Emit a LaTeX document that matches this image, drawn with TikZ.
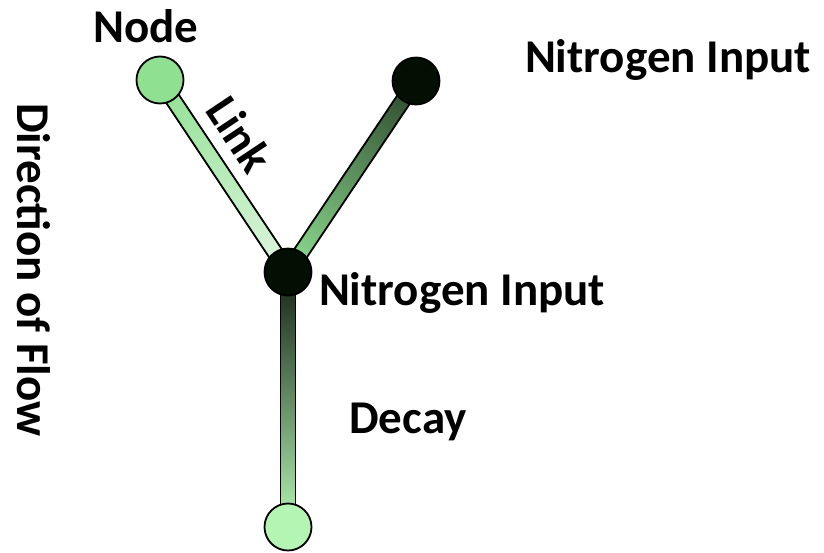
\documentclass[tikz,border=0pt]{standalone}
\usepackage{fontspec}
\setmainfont{Carlito}
\usetikzlibrary{calc,backgrounds}

\definecolor{leafgreen}{HTML}{90E092}
\definecolor{paleleaf}{HTML}{B4F5B4}
\definecolor{nightgreen}{HTML}{030F03}
\definecolor{palelink}{HTML}{E0F6E0}
\definecolor{darklink}{HTML}{2B452B}
\definecolor{deeplink}{HTML}{152215}

% a link bar between two named nodes, shaded along its length from #3 (at #1) to #4 (at #2)
\newcommand\shadedlink[4]{%
  \path let \p1=(#1.center), \p2=(#2.center) in
    \pgfextra{%
      \pgfmathsetmacro\linkang{atan2(\y2-\y1,\x2-\x1)}%
      \pgfmathsetmacro\linklen{veclen(\x2-\x1,\y2-\y1)}%
      \xdef\Lang{\linkang}\xdef\Llen{\linklen}%
      \xdef\Lx{\x1}\xdef\Ly{\y1}};
  \begin{scope}[transform canvas={shift={(\Lx,\Ly)}, rotate=\Lang}]
    \draw[linkbar, left color=#3, right color=#4]
      (0pt,-7.5pt) rectangle (\Llen pt,7.5pt);
  \end{scope}}

\begin{document}
\begin{tikzpicture}[x=1pt,y=-1pt,
  every node/.style={font=\fontsize{47}{56}\selectfont\bfseries},
  flownode/.style={circle, draw=black, line width=1.8pt, minimum size=47pt, inner sep=0pt},
  linkbar/.style={draw=black, line width=1.8pt},
  label/.style={anchor=base, inner sep=0pt}]
  \useasboundingbox (0,0) rectangle (824,552);

  % nodes of the network
  \node[flownode, fill=leafgreen]  (up1)  at (160,80)  {};
  \node[flownode, fill=nightgreen] (up2)  at (416,81)  {};
  \node[flownode, fill=nightgreen] (mid)  at (288,272) {};
  \node[flownode, fill=paleleaf]   (down) at (288,527) {};

  % links, drawn behind the nodes
  \begin{pgfonlayer}{background}
    \shadedlink{up1}{mid}{leafgreen}{palelink}
    \shadedlink{mid}{up2}{leafgreen}{darklink}
    \shadedlink{mid}{down}{deeplink}{paleleaf}
  \end{pgfonlayer}

  % labels
  \node[label] (nodelbl) at (146,42) {Node};
  \node[label] (ninput1) at (668,72) {Nitrogen Input};
  \node[label] (ninput2) at (462,305) {Nitrogen Input};
  \node[label] (decay)   at (408,433) {Decay};
  \node[label, rotate=-56.3] (linklbl) at (226,143) {Link};
  \node[label, rotate=-90]   (flow)    at (17,270) {Direction of Flow};
\end{tikzpicture}
\end{document}
